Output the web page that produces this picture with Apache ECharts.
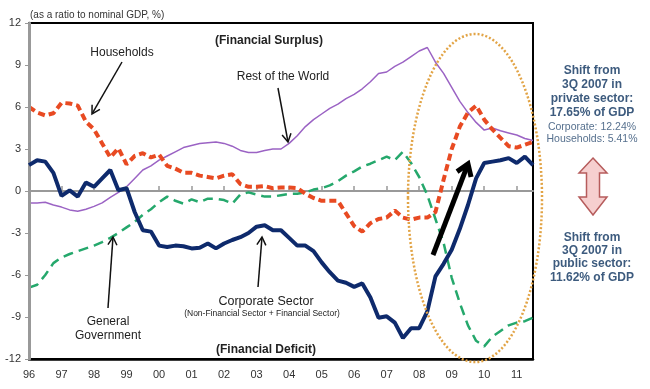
<!DOCTYPE html>
<html><head><meta charset="utf-8">
<script src="https://cdn.jsdelivr.net/npm/echarts@6/dist/echarts.min.js"></script>
<style>html,body{margin:0;padding:0;background:#fff}#c{width:650px;height:389px}</style>
</head><body><div id="c"></div>
<script>
// Year tick labels (quarterly data, 1996Q1 - 2011Q3)
const yearLabels = ['96','97','98','99','00','01','02','03','04','05','06','07','08','09','10','11'];
const quarterCount = 63;
const yTicks = [-12,-9,-6,-3,0,3,6,9,12];

const households = [6.0,5.6,5.4,5.55,6.3,6.25,6.1,4.95,4.4,3.4,
  2.4,3.05,1.9,2.5,2.7,2.4,2.6,1.8,1.6,1.3,
  1.3,1.1,1.0,0.9,1.1,1.2,0.5,0.3,0.3,0.35,
  0.2,0.25,0.25,0.2,-0.2,-0.5,-0.7,-0.7,-0.7,-1.6,
  -2.5,-2.9,-2.3,-2.0,-1.9,-1.4,-1.9,-2.05,-1.9,-1.9,
  -1.5,0.8,3.0,4.6,5.6,6.1,5.1,4.4,3.8,3.2,
  3.1,3.3,3.5];
const restOfWorld = [-0.85,-0.85,-0.8,-1.0,-1.15,-1.35,-1.45,-1.3,-1.1,-0.85,
  -0.45,-0.1,0.3,0.9,1.5,1.8,2.2,2.5,2.8,3.1,
  3.25,3.4,3.45,3.5,3.4,3.2,2.9,2.75,2.75,2.9,
  3.0,3.0,3.4,3.95,4.6,5.1,5.5,5.9,6.2,6.6,
  6.9,7.3,7.8,8.4,8.5,8.9,9.2,9.6,10.0,10.25,
  9.2,8.4,7.4,6.4,5.6,4.9,4.35,4.5,4.3,4.15,
  4.0,3.75,3.6];
const corporate = [1.85,2.2,2.1,1.3,-0.35,0.05,-0.4,0.6,0.3,0.9,
  1.5,0.05,0.2,-1.5,-2.8,-2.9,-3.9,-4.0,-3.9,-3.95,
  -4.1,-4.05,-3.75,-4.1,-3.75,-3.5,-3.3,-3.0,-2.55,-2.45,
  -2.8,-2.8,-3.35,-3.9,-3.9,-4.3,-5.1,-5.8,-6.4,-6.55,
  -6.85,-6.6,-7.6,-9.05,-8.95,-9.4,-10.5,-9.8,-9.8,-8.6,
  -6.1,-5.2,-4.2,-2.7,-1.0,0.9,2.0,2.1,2.2,2.35,
  2.0,2.45,1.85];
const government = [-6.9,-6.7,-6.0,-5.15,-4.75,-4.5,-4.3,-4.1,-3.9,-3.65,
  -3.35,-3.0,-2.6,-2.2,-1.7,-1.3,-0.8,-0.4,-0.7,-0.9,
  -0.6,-0.8,-0.55,-0.55,-0.65,-0.9,-0.25,-0.1,-0.25,-0.4,
  -0.4,-0.3,-0.2,-0.2,-0.1,0.1,0.2,0.4,0.7,1.1,
  1.4,1.75,1.95,2.2,2.45,2.2,2.8,2.0,1.0,-0.3,
  -2.0,-3.7,-6.2,-8.0,-9.6,-10.7,-11.1,-10.4,-10.0,-9.6,
  -9.4,-9.3,-9.05];

const categories = [];
for (const y of yearLabels) for (let q = 1; q <= 4; q++) if (categories.length < quarterCount) categories.push(y + 'Q' + q);

const FONT = '"Liberation Sans", Arial, sans-serif';
const chart = echarts.init(document.getElementById('c'), null, {renderer: 'canvas'});

function txt(text, x, y, size, opts) {
  opts = opts || {};
  return {type: 'text', z: 50, style: {text: text, x: x, y: y,
    font: (opts.bold ? 'bold ' : '') + size + 'px ' + FONT,
    fill: opts.color || '#222', align: opts.align || 'center', verticalAlign: 'middle'}};
}
function arrow(x1, y1, x2, y2, w, hl, hw, color) {
  const dx = x2 - x1, dy = y2 - y1, L = Math.hypot(dx, dy), ux = dx / L, uy = dy / L;
  const bx = x2 - ux * hl, by = y2 - uy * hl, px = -uy, py = ux;
  return [
    {type: 'line', z: 50, shape: {x1: x1, y1: y1, x2: x2 - ux * w * 0.4, y2: y2 - uy * w * 0.4}, style: {stroke: color, lineWidth: w}},
    {type: 'polyline', z: 50, shape: {points: [[bx + px * hw / 2, by + py * hw / 2], [x2, y2], [bx - px * hw / 2, by - py * hw / 2]]},
      style: {stroke: color, lineWidth: w, fill: null, lineJoin: 'miter'}}
  ];
}

const blue = '#3d5b7e';
const graphics = [
  txt('(as a ratio to nominal GDP, %)', 30, 15, 10, {align: 'left', color: '#333'}),
  txt('(Financial Surplus)', 269, 41, 12, {bold: true}),
  txt('Households', 122, 53, 12),
  txt('Rest of the World', 283, 77, 12),
  txt('General', 108, 322, 12),
  txt('Government', 108, 336, 12),
  txt('Corporate Sector', 266, 302, 12.5),
  txt('(Non-Financial Sector + Financial Sector)', 262, 314, 8.5),
  txt('(Financial Deficit)', 266, 350, 12, {bold: true}),
  txt('Shift from', 592, 71, 12, {bold: true, color: blue}),
  txt('3Q 2007 in', 592, 85, 12, {bold: true, color: blue}),
  txt('private sector:', 592, 99, 12, {bold: true, color: blue}),
  txt('17.65% of GDP', 592, 113, 12, {bold: true, color: blue}),
  txt('Corporate: 12.24%', 592, 127, 10.5, {color: '#56708e'}),
  txt('Households: 5.41%', 592, 139, 10.5, {color: '#56708e'}),
  txt('Shift from', 592, 238, 12, {bold: true, color: blue}),
  txt('3Q 2007 in', 592, 251, 12, {bold: true, color: blue}),
  txt('public sector:', 592, 264, 12, {bold: true, color: blue}),
  txt('11.62% of GDP', 592, 278, 12, {bold: true, color: blue}),
  {type: 'polygon', z: 50, shape: {points: [[593,158],[607,173],[599.5,173],[599.5,197],[607,197],[593,215],[579,197],[586.5,197],[586.5,173],[579,173]]},
    style: {fill: '#f6cfcf', stroke: '#b65c5c', lineWidth: 1.5}},
  {type: 'ellipse', z: 40, shape: {cx: 475, cy: 198, rx: 67, ry: 164},
    style: {fill: null, stroke: '#e2a446', lineWidth: 2.5, lineDash: [2, 2]}}
].concat(
  arrow(122, 62, 92, 114, 1.5, 8, 9, '#111'),
  arrow(278, 88, 288, 142, 1.5, 8, 9, '#111'),
  arrow(108, 308, 113, 237, 1.5, 8, 9, '#111'),
  arrow(258, 287, 262, 237, 1.5, 8, 9, '#111'),
  arrow(433, 255, 468, 164, 5, 11, 15, '#000')
);

chart.setOption({
  animation: false,
  backgroundColor: '#fff',
  grid: {left: 29, right: 117, top: 23, bottom: 30, show: true, borderColor: '#000', borderWidth: 2, backgroundColor: 'transparent'},
  xAxis: [
    {type: 'category', data: categories, boundaryGap: false, position: 'bottom',
      axisLine: {show: true, onZero: false, lineStyle: {color: '#000', width: 2.5}},
      axisTick: {show: false},
      axisLabel: {interval: 3, color: '#333', fontSize: 11, fontFamily: FONT, margin: 10,
        formatter: function (v) { return v.slice(0, 2); }},
      splitLine: {show: false}},
    {type: 'category', data: categories, boundaryGap: false, position: 'bottom', z: 3,
      axisLine: {show: true, onZero: true, lineStyle: {color: '#999', width: 2}},
      axisTick: {show: true, inside: true, length: 5, interval: 3, lineStyle: {color: '#999', width: 1.5}},
      axisLabel: {show: false}, splitLine: {show: false}}
  ],
  yAxis: {type: 'value', min: -12, max: 12, interval: 3, z: 5,
    axisLine: {show: true, lineStyle: {color: '#999', width: 3}},
    axisTick: {show: true, length: 4, lineStyle: {color: '#999'}},
    axisLabel: {color: '#333', fontSize: 11, fontFamily: FONT, margin: 8,
      formatter: function (v) { return yTicks.indexOf(v) >= 0 ? String(v) : ''; }},
    splitLine: {show: false}},
  series: [
    {name: 'Rest of the World', type: 'line', data: restOfWorld, symbol: 'none', z: 2,
      lineStyle: {color: '#9b63c4', width: 1.5}},
    {name: 'General Government', type: 'line', data: government, symbol: 'none', z: 3,
      lineStyle: {color: '#25a86c', width: 2.5, type: [10, 6]}},
    {name: 'Households', type: 'line', data: households, symbol: 'none', z: 4,
      lineStyle: {color: '#e84a22', width: 4, type: [7, 4]}},
    {name: 'Corporate Sector', type: 'line', data: corporate, symbol: 'none', z: 5,
      lineStyle: {color: '#0e2a6c', width: 4}}
  ],
  graphic: graphics
});
</script></body></html>
